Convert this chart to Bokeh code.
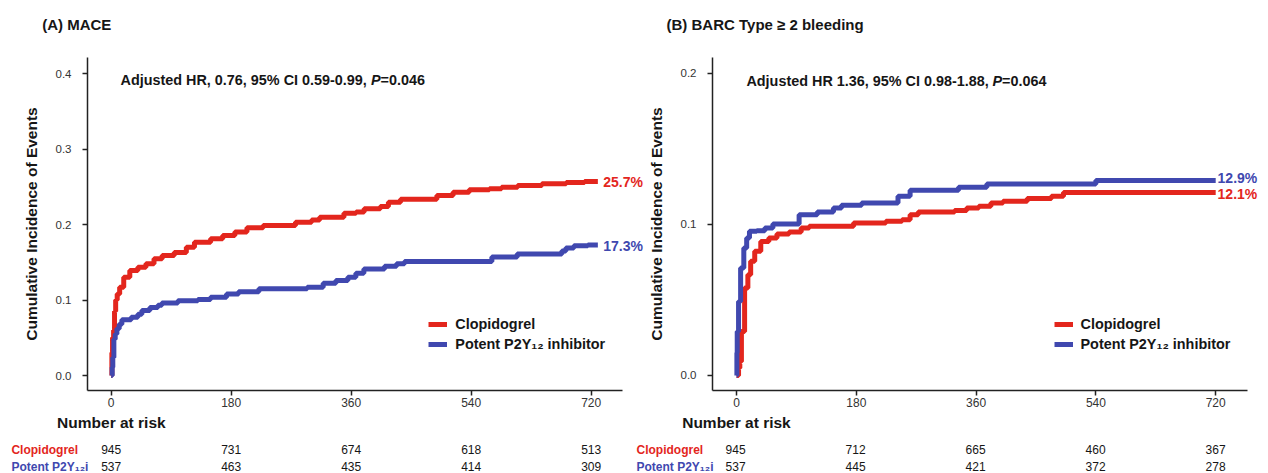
from bokeh.plotting import figure
from bokeh.layouts import row, column
from bokeh.models import (LabelSet, ColumnDataSource, FixedTicker, Range1d,
                          PrintfTickFormatter, Legend, LegendItem)
from bokeh.core.properties import value
from bokeh.embed import file_html
from bokeh.resources import INLINE

FONT = "Liberation Sans"
RED = "#E3261D"
BLUE = "#4048AF"
INK = "#161616"

# ---------------- data ----------------
tick_days = [0, 180, 360, 540, 720]

mace_clop_t = [0, 1, 2, 3.6, 5, 6.7, 9, 12.7, 18.8, 27.9, 40, 52.1, 64.2, 76.4, 94.5, 112.7,
               124.9, 149.1, 167.3, 185.5, 203.6, 227.9, 276.4, 300.6, 312.7, 349.1, 367.3,
               379.4, 403.7, 415.8, 434, 488.5, 512.8, 537, 567.3, 585.5, 609.7, 646.1,
               682.5, 710, 730]
mace_clop_v = [0, 0.03, 0.05, 0.06, 0.085, 0.10, 0.108, 0.117, 0.13, 0.139, 0.1435, 0.148,
               0.1545, 0.159, 0.163, 0.17, 0.1766, 0.181, 0.1854, 0.19, 0.1956, 0.1987, 0.203,
               0.206, 0.2097, 0.215, 0.2164, 0.2208, 0.2238, 0.2296, 0.2335, 0.2384, 0.2428,
               0.246, 0.2473, 0.2494, 0.2517, 0.2539, 0.2556, 0.257, 0.257]

mace_pot_t = [0, 1.5, 2.4, 4, 6, 8.5, 12, 16, 30, 40, 46, 58, 70, 76, 100, 130, 149, 173, 191,
              221.5, 294, 318, 337, 355, 367, 379, 410, 428, 440, 571, 609, 676, 682, 694,
              715, 730]
mace_pot_v = [0, 0.011, 0.024, 0.048, 0.055, 0.062, 0.068, 0.074, 0.077, 0.081, 0.086, 0.090,
              0.093, 0.096, 0.099, 0.1006, 0.1037, 0.108, 0.111, 0.1148, 0.117, 0.1223, 0.1258,
              0.130, 0.1355, 0.141, 0.1448, 0.148, 0.151, 0.157, 0.161, 0.165, 0.169, 0.172,
              0.173, 0.173]

barc_clop_t = [0, 3, 4.9, 7.3, 12.1, 17.0, 21.2, 27.3, 36.4, 48.5, 60.7, 78.9, 97.1, 109.2,
               175.9, 224.4, 248.7, 260.8, 273.0, 327.6, 345.8, 364.0, 382.2, 400.4, 436.8,
               473.1, 491.3, 720]
barc_clop_v = [0, 0.005, 0.0093, 0.0291, 0.0578, 0.0667, 0.0755, 0.0821, 0.0887, 0.0909,
               0.0936, 0.0949, 0.0976, 0.0987, 0.1009, 0.102, 0.103, 0.1064, 0.1082, 0.1091,
               0.1108, 0.1119, 0.1141, 0.1152, 0.117, 0.1185, 0.121, 0.121]

barc_pot_t = [0, 0.5, 1, 3.0, 6.1, 10.9, 15.2, 19.4, 30.3, 42.5, 54.6, 94.0, 121.3, 145.6,
              157.7, 188.0, 242.6, 260.8, 333.6, 376.1, 539.9, 720]
barc_pot_v = [0, 0.015, 0.0291, 0.049, 0.0711, 0.0843, 0.0909, 0.0954, 0.0958, 0.0976,
              0.1002, 0.1064, 0.1082, 0.1108, 0.1126, 0.1141, 0.1185, 0.1225, 0.1245,
              0.1267, 0.129, 0.129]

mace_clop_risk = [945, 731, 674, 618, 513]
mace_pot_risk = [537, 463, 435, 414, 309]
barc_clop_risk = [945, 712, 665, 460, 367]
barc_pot_risk = [537, 445, 421, 372, 278]

mace_yticks = [0.0, 0.1, 0.2, 0.3, 0.4]
barc_yticks = [0.0, 0.1, 0.2]

titles = ["(A) MACE", "(B) BARC Type \u2265 2 bleeding"]
group_labels = ["Clopidogrel", "Potent P2Y\u2081\u2082 inhibitor"]
row_labels = ["Clopidogrel", "Potent P2Y\u2081\u2082i"]

# Arial / Liberation Sans Bold advance widths (1/1000 em)
BOLD_W = {" ": 278, "%": 889, "(": 333, ")": 333, ",": 278, "-": 333, ".": 278, "=": 584,
          "A": 722, "C": 722, "H": 722, "I": 278, "P": 667, "R": 722,
          "d": 611, "e": 556, "j": 278, "s": 556, "t": 333, "u": 611}


def text_w(s, size):
    return sum(BOLD_W.get(c, 556) for c in s) * size / 1000.0


PX_PER_DAY = 120.0 / 180.0
TOP_H = 40       # title strip height
MAIN_H = 372     # main plots: global y 40..412
TABLE_H = 61     # risk table: global y 412..473


def add_label(p, x, y, text, size, color=INK, style="bold", align="left"):
    src = ColumnDataSource(dict(x=[x], y=[y], text=[text]))
    p.add_layout(LabelSet(x="x", y="y", text="text", source=src,
                          text_font=value(FONT), text_font_size=f"{size}px",
                          text_font_style=style, text_color=color, text_align=align,
                          text_baseline="alphabetic"))


def style_axes(p):
    for ax in (p.xaxis[0], p.yaxis[0]):
        ax.axis_line_color = "#222222"
        ax.axis_line_width = 1.5
        ax.major_tick_line_color = "#222222"
        ax.major_tick_line_width = 1.5
        ax.major_tick_out = 5
        ax.major_tick_in = 0
        ax.minor_tick_line_color = None
        ax.major_label_text_font = FONT
        ax.major_label_text_color = "#333333"


def build_main(spec):
    gx0, W = spec["fig_x"], spec["fig_w"]
    FL, FR, FT, FB = spec["frame"]
    zx, zy, ppu = spec["zero_px"], spec["yzero_px"], spec["px_per_unit"]

    def day(px):
        return (px - zx) / PX_PER_DAY

    def val(py):
        return (zy - py) / ppu

    p = figure(width=W, height=MAIN_H, x_range=Range1d(day(FL), day(FR)),
               y_range=Range1d(val(FB), val(FT)), output_backend="svg",
               toolbar_location=None, min_border_left=FL - gx0,
               min_border_right=gx0 + W - FR, min_border_top=FT - TOP_H,
               min_border_bottom=TOP_H + MAIN_H - FB)
    p.outline_line_color = None
    p.grid.visible = False
    style_axes(p)
    p.xaxis.ticker = FixedTicker(ticks=tick_days)
    p.xaxis.bounds = (day(FL), day(spec["xaxis_end"]))
    p.xaxis.major_label_text_font_size = "12px"
    p.xaxis.major_label_standoff = 2
    p.yaxis.ticker = FixedTicker(ticks=spec["yticks"])
    p.yaxis.formatter = PrintfTickFormatter(format="%.1f")
    p.yaxis.major_label_text_font_size = "11.5px"
    p.yaxis.major_label_standoff = 11
    p.yaxis.axis_label = "Cumulative Incidence of Events"
    p.yaxis.axis_label_text_font = FONT
    p.yaxis.axis_label_text_font_size = "15.5px"
    p.yaxis.axis_label_text_font_style = "bold"
    p.yaxis.axis_label_text_color = INK
    p.yaxis.axis_label_standoff = 13

    r_red = p.step(x=spec["red"][0], y=spec["red"][1], mode="after",
                   line_color=RED, line_width=5)
    r_blue = p.step(x=spec["blue"][0], y=spec["blue"][1], mode="after",
                    line_color=BLUE, line_width=5)

    # annotation with italic P
    ax_, ay_ = spec["annot_xy"]
    fs = 14.4
    pre, post = spec["annot"]
    add_label(p, day(ax_), val(ay_), pre, fs)
    xp = ax_ + text_w(pre, fs)
    add_label(p, day(xp), val(ay_), "P", fs, style="bold italic")
    xp += text_w("P", fs)
    add_label(p, day(xp), val(ay_), post, fs)

    # end-of-follow-up labels
    ex = day(spec["end_x"])
    add_label(p, ex, val(spec["end_base"][0]), f"{spec['red'][1][-1] * 100:.1f}%", 14, color=RED)
    add_label(p, ex, val(spec["end_base"][1]), f"{spec['blue'][1][-1] * 100:.1f}%", 14, color=BLUE)

    lx, ltop = spec["legend_lt"]
    legend = Legend(items=[LegendItem(label=group_labels[0], renderers=[r_red]),
                           LegendItem(label=group_labels[1], renderers=[r_blue])],
                    location=(lx - FL, FB - (ltop + 40)), orientation="vertical",
                    padding=0, margin=0, spacing=0, glyph_width=19, glyph_height=20,
                    label_height=20, label_standoff=8, label_text_font=FONT,
                    label_text_font_size="14.4px", label_text_font_style="bold",
                    label_text_color=INK, border_line_color=None,
                    background_fill_alpha=0)
    p.add_layout(legend)
    return p


def build_table(spec):
    gx0 = spec["table_x"]
    W = 634
    zx = spec["zero_px"]

    def day(px):
        return (px - zx) / PX_PER_DAY

    top = TOP_H + MAIN_H

    def ly(py):
        return py - top

    p = figure(width=W, height=TABLE_H, x_range=Range1d(day(gx0), day(gx0 + W)),
               y_range=Range1d(TABLE_H, 0), output_backend="svg", toolbar_location=None,
               x_axis_location=None, y_axis_location=None, min_border=0)
    p.outline_line_color = None
    p.grid.visible = False
    add_label(p, day(spec["nar_xy"][0]), ly(spec["nar_xy"][1]), "Number at risk", 15.5)
    rows = [(453.0, row_labels[0], RED, spec["risk"][0]),
            (470.0, row_labels[1], BLUE, spec["risk"][1])]
    for by, lab, col, counts in rows:
        add_label(p, day(spec["row_x"]), ly(by), lab, 12, color=col)
        src = ColumnDataSource(dict(x=tick_days, y=[ly(by)] * len(tick_days),
                                    text=[str(n) for n in counts]))
        p.add_layout(LabelSet(x="x", y="y", text="text", source=src,
                              text_align="center", text_baseline="alphabetic",
                              text_font=value(FONT), text_font_size="12px",
                              text_color=INK))
    return p


specA = dict(fig_x=0, fig_w=644, frame=(87, 644, 57, 390), zero_px=110.7, yzero_px=375.0,
             px_per_unit=755.0, xaxis_end=622,
             yticks=mace_yticks, red=(mace_clop_t, mace_clop_v), blue=(mace_pot_t, mace_pot_v),
             annot=("Adjusted HR, 0.76, 95% CI 0.59-0.99, ", "=0.046"), annot_xy=(120, 84.3),
             end_x=602.7, end_base=(186.7, 250.7), legend_lt=(428.3, 314),
             table_x=0, nar_xy=(56.6, 427.2), row_x=10.9, risk=(mace_clop_risk, mace_pot_risk))

specB = dict(fig_x=644, fig_w=624, frame=(711, 1268, 56, 390), zero_px=735.1, yzero_px=374.9,
             px_per_unit=1516.0, xaxis_end=1246.6,
             yticks=barc_yticks, red=(barc_clop_t, barc_clop_v), blue=(barc_pot_t, barc_pot_v),
             annot=("Adjusted HR 1.36, 95% CI 0.98-1.88, ", "=0.064"), annot_xy=(745, 84.3),
             end_x=1217, end_base=(198.3, 182.3), legend_lt=(1052.5, 314),
             table_x=634, nar_xy=(681.7, 427.2), row_x=636, risk=(barc_clop_risk, barc_pot_risk))

# title strip (pixel coordinates)
ptitle = figure(width=1268, height=TOP_H, x_range=Range1d(0, 1268), y_range=Range1d(TOP_H, 0),
                output_backend="svg", toolbar_location=None, x_axis_location=None,
                y_axis_location=None, min_border=0)
ptitle.outline_line_color = None
ptitle.grid.visible = False
add_label(ptitle, 41.7, 29.3, titles[0], 15)
add_label(ptitle, 666, 29.3, titles[1], 15)

layout = column(ptitle,
                row(build_main(specA), build_main(specB)),
                row(build_table(specA), build_table(specB)))

open("out.html", "w").write(file_html(layout, INLINE))
